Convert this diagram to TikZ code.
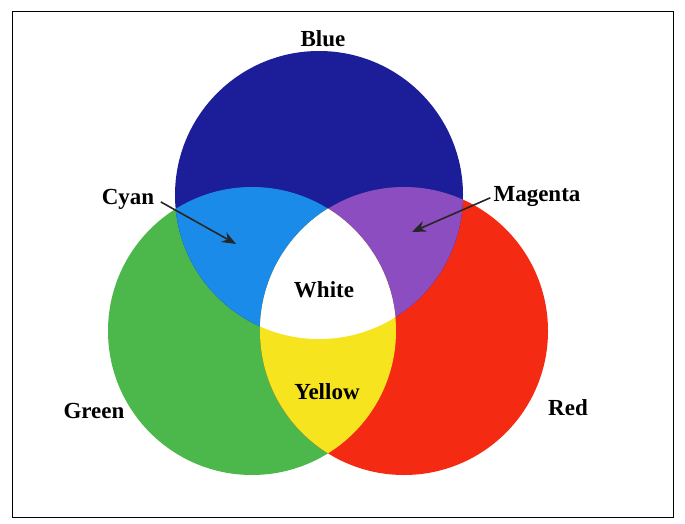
\documentclass[tikz,border=0pt]{standalone}
\usepackage{fontspec}
\setmainfont{Liberation Serif}
\usetikzlibrary{arrows.meta}
\definecolor{bluedisc}{HTML}{1B1E98}
\definecolor{greendisc}{HTML}{4CB84C}
\definecolor{reddisc}{HTML}{F42A12}
\definecolor{cyanpart}{HTML}{1A8BE8}
\definecolor{magentapart}{HTML}{8B4DBF}
\definecolor{yellowpart}{HTML}{F6E51E}
\tikzset{sc/.style={x=1pt,y=1pt,line width=.8pt,font=\fontsize{23}{26}\selectfont\bfseries},
  lbl/.style={inner sep=1pt},
  pointer/.style={-{Stealth[length=14pt,width=11pt]},line width=1.6pt,black!85}}

\begin{document}
\begin{tikzpicture}[sc]
  \useasboundingbox (0,0) rectangle (685,523);
  \draw (12,6) rectangle (673,512);
  \def\rr{144}
  \coordinate (cb) at (319,328);
  \coordinate (cg) at (252,192);
  \coordinate (cr) at (404,192);
  \foreach \c/\col in {cg/greendisc,cr/reddisc,cb/bluedisc}{\fill[\col] (\c) circle(\rr);}
  \begin{scope}\clip (cb) circle(\rr); \fill[cyanpart] (cg) circle(\rr); \end{scope}
  \begin{scope}\clip (cb) circle(\rr); \fill[magentapart] (cr) circle(\rr); \end{scope}
  \begin{scope}\clip (cg) circle(\rr); \fill[yellowpart] (cr) circle(\rr); \end{scope}
  \begin{scope}\clip (cg) circle(\rr); \clip (cr) circle(\rr); \fill[white] (cb) circle(\rr); \end{scope}
  % labels
  \node[lbl] (blue) at (323,484) {Blue};
  \node[lbl] (cyan) at (128,324) {Cyan};
  \node[lbl] (magenta) at (537,326) {Magenta};
  \node[lbl] (white) at (324,233) {White};
  \node[lbl] (yellow) at (327,131) {Yellow};
  \node[lbl] (green) at (94,112) {Green};
  \node[lbl] (red) at (568,115) {Red};
  \coordinate (cyantip) at (236,279);
  \coordinate (magentatip) at (412,291);
  \draw[pointer,shorten <=6pt] (cyan.east) -- (cyantip);
  \draw[pointer,shorten <=2pt] (magenta.west) -- (magentatip);
\end{tikzpicture}
\end{document}
